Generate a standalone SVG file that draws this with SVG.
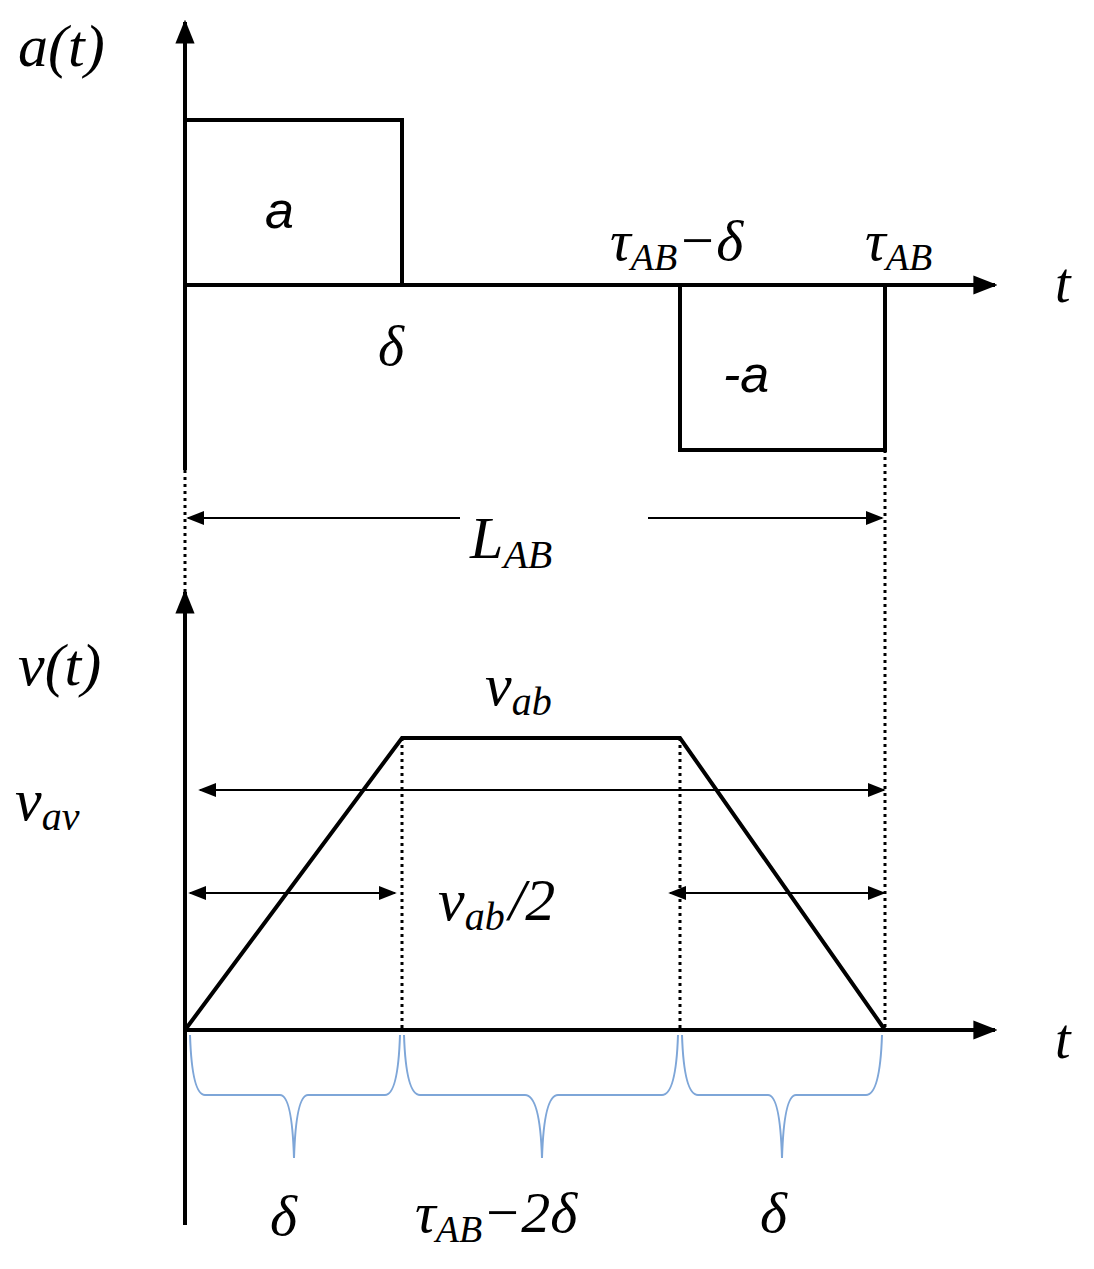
<svg xmlns="http://www.w3.org/2000/svg" width="1094" height="1269" viewBox="0 0 1094 1269">
<defs>
<marker id="ah" viewBox="0 0 10 10" refX="9" refY="5" markerWidth="6" markerHeight="6" orient="auto-start-reverse"><path d="M0,1 L10,5 L0,9 z" fill="#000"/></marker>
<marker id="sh" viewBox="0 0 10 10" refX="9" refY="5" markerWidth="9" markerHeight="9" orient="auto-start-reverse"><path d="M0,1 L10,5 L0,9 z" fill="#000"/></marker>
</defs>
<style>
.m{font-family:"Liberation Serif",serif;font-style:italic;fill:#000}
.s{font-family:"Liberation Sans",sans-serif;font-style:italic;fill:#000}
.ax{stroke:#000;stroke-width:4;fill:none}
.th{stroke:#000;stroke-width:2;fill:none}
.dt{stroke:#000;stroke-width:3;stroke-dasharray:3 4;fill:none}
.br{stroke:#7ea6d8;stroke-width:2;fill:none}
</style>
<rect width="1094" height="1269" fill="#fff"/>
<g id="connectors">
<line class="ax" x1="185" y1="470" x2="185" y2="22" marker-end="url(#ah)"/>
<line class="ax" x1="185" y1="285" x2="995" y2="285" marker-end="url(#ah)"/>
<line class="dt" x1="185" y1="470" x2="185" y2="595"/>
<line class="ax" x1="185" y1="1225" x2="185" y2="592" marker-end="url(#ah)"/>
<line class="ax" x1="185" y1="1030" x2="995" y2="1030" marker-end="url(#ah)"/>
<line class="dt" x1="885" y1="450" x2="885" y2="1030"/>
<line class="dt" x1="402" y1="738" x2="402" y2="1030"/>
<line class="dt" x1="680" y1="738" x2="680" y2="1030"/>
<line class="th" x1="188" y1="518" x2="460" y2="518" marker-start="url(#sh)"/>
<line class="th" x1="648" y1="518" x2="882" y2="518" marker-end="url(#sh)"/>
<line class="th" x1="200" y1="790" x2="884" y2="790" marker-start="url(#sh)" marker-end="url(#sh)"/>
<line class="th" x1="190" y1="893" x2="395" y2="893" marker-start="url(#sh)" marker-end="url(#sh)"/>
<line class="th" x1="670" y1="893" x2="884" y2="893" marker-start="url(#sh)" marker-end="url(#sh)"/>
</g>
<g id="accel">
<polyline class="ax" points="185,120 402,120 402,285"/>
<polyline class="ax" points="680,285 680,450 885,450 885,285"/>
</g>
<g id="velocity">
<polyline class="ax" points="185,1030 402,738 680,738 885,1030"/>
</g>
<g id="braces">
<path class="br" d="M190,1035 Q192,1095 205,1095 L280,1095 Q292,1095 294,1158 Q296,1095 308,1095 L385,1095 Q398,1095 400,1035"/>
<path class="br" d="M404,1035 Q406,1095 420,1095 L525,1095 Q540,1095 542,1158 Q544,1095 558,1095 L662,1095 Q676,1095 678,1035"/>
<path class="br" d="M682,1035 Q684,1095 698,1095 L768,1095 Q780,1095 782,1158 Q784,1095 796,1095 L866,1095 Q880,1095 882,1035"/>
</g>
<g id="labels">
<text class="m" x="18" y="66" font-size="60">a(t)</text>
<text class="s" x="265" y="228" font-size="52">a</text>
<text class="m" x="378" y="365" font-size="56">δ</text>
<text class="m" x="610" y="260" font-size="58">τ<tspan font-size="38" dy="10">AB</tspan><tspan dy="-10">−δ</tspan></text>
<text class="m" x="865" y="260" font-size="58">τ<tspan font-size="38" dy="10">AB</tspan></text>
<text class="m" x="1055" y="302" font-size="56">t</text>
<text class="s" x="723" y="392" font-size="52">-a</text>
<text class="m" x="470" y="558" font-size="60">L<tspan font-size="40" dy="10">AB</tspan></text>
<text class="m" x="18" y="685" font-size="60">v(t)</text>
<text class="m" x="485" y="705" font-size="60">v<tspan font-size="40" dy="10">ab</tspan></text>
<text class="m" x="15" y="820" font-size="60">v<tspan font-size="40" dy="10">av</tspan></text>
<text class="m" x="438" y="920" font-size="60">v<tspan font-size="40" dy="10">ab</tspan><tspan dy="-10" dx="4">/2</tspan></text>
<text class="m" x="1055" y="1058" font-size="56">t</text>
<text class="m" x="270" y="1235" font-size="58">δ</text>
<text class="m" x="415" y="1232" font-size="58">τ<tspan font-size="38" dy="10">AB</tspan><tspan dy="-10">−2δ</tspan></text>
<text class="m" x="760" y="1232" font-size="58">δ</text>
</g>
</svg>
